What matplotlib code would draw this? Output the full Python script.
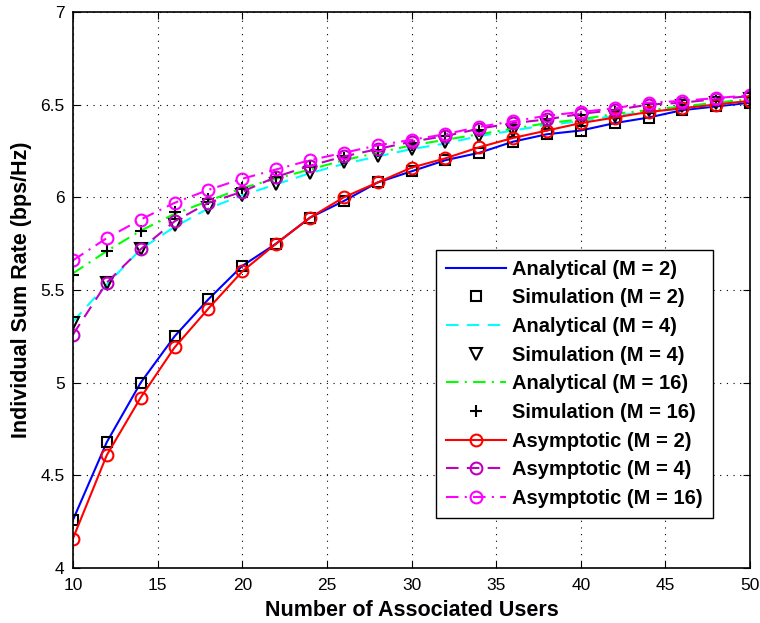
import matplotlib
matplotlib.use('Agg')
import matplotlib.pyplot as plt

users = [10, 12, 14, 16, 18, 20, 22, 24, 26, 28, 30, 32, 34, 36, 38, 40, 42, 44, 46, 48, 50]

ana_m2 = [4.26, 4.68, 5.00, 5.25, 5.45, 5.63, 5.75, 5.89, 5.98, 6.08, 6.14, 6.20, 6.24, 6.30, 6.34, 6.36, 6.40, 6.43, 6.47, 6.49, 6.51]
sim_m2 = [4.26, 4.68, 5.00, 5.25, 5.45, 5.63, 5.75, 5.89, 5.98, 6.08, 6.14, 6.20, 6.24, 6.30, 6.34, 6.36, 6.40, 6.43, 6.47, 6.49, 6.51]
ana_m4 = [5.33, 5.53, 5.72, 5.84, 5.94, 6.01, 6.07, 6.13, 6.18, 6.22, 6.26, 6.29, 6.33, 6.36, 6.39, 6.41, 6.44, 6.46, 6.48, 6.50, 6.52]
sim_m4 = [5.32, 5.54, 5.72, 5.85, 5.94, 6.01, 6.07, 6.13, 6.19, 6.22, 6.26, 6.30, 6.33, 6.36, 6.39, 6.41, 6.44, 6.47, 6.49, 6.51, 6.53]
ana_m16 = [5.59, 5.71, 5.82, 5.91, 5.98, 6.05, 6.10, 6.15, 6.20, 6.24, 6.28, 6.31, 6.34, 6.37, 6.40, 6.42, 6.45, 6.47, 6.49, 6.51, 6.53]
sim_m16 = [5.58, 5.71, 5.82, 5.92, 5.99, 6.05, 6.11, 6.17, 6.21, 6.25, 6.28, 6.33, 6.36, 6.38, 6.41, 6.43, 6.46, 6.48, 6.50, 6.52, 6.54]
asy_m2 = [4.16, 4.61, 4.92, 5.19, 5.40, 5.60, 5.75, 5.89, 6.00, 6.08, 6.16, 6.21, 6.27, 6.32, 6.36, 6.40, 6.43, 6.46, 6.48, 6.50, 6.52]
asy_m4 = [5.26, 5.54, 5.72, 5.87, 5.97, 6.03, 6.11, 6.17, 6.22, 6.26, 6.30, 6.33, 6.37, 6.40, 6.42, 6.45, 6.47, 6.50, 6.51, 6.53, 6.545]
asy_m16 = [5.66, 5.78, 5.88, 5.97, 6.04, 6.10, 6.15, 6.20, 6.24, 6.28, 6.31, 6.34, 6.38, 6.41, 6.44, 6.46, 6.48, 6.51, 6.52, 6.535, 6.55]

plt.rcParams['font.family'] = ['Liberation Sans', 'DejaVu Sans']

fig = plt.figure(figsize=(7.6, 6.23), dpi=100)
ax = fig.add_axes([0.096, 0.088, 0.891, 0.893])

lw = 1.5
mew = 1.5
ax.plot(users, ana_m2, color='#0000FF', linestyle='-', linewidth=lw, label='Analytical (M = 2)')
ax.plot(users, sim_m2, linestyle='none', marker='s', markersize=7.5, markerfacecolor='none',
        markeredgecolor='black', markeredgewidth=mew, label='Simulation (M = 2)')
ax.plot(users, ana_m4, color='#00FFFF', linestyle=(0, (6, 4)), linewidth=lw, label='Analytical (M = 4)')
ax.plot(users, sim_m4, linestyle='none', marker='v', markersize=9, markerfacecolor='none',
        markeredgecolor='black', markeredgewidth=mew, label='Simulation (M = 4)')
ax.plot(users, ana_m16, color='#00FF00', linestyle=(0, (6, 3, 1, 3)), linewidth=lw, label='Analytical (M = 16)')
ax.plot(users, sim_m16, linestyle='none', marker='+', markersize=8.5, markeredgecolor='black',
        markeredgewidth=mew, label='Simulation (M = 16)')
ax.plot(users, asy_m2, color='#FF0000', linestyle='-', linewidth=lw, marker='o', markersize=8.5,
        markerfacecolor='none', markeredgewidth=mew, label='Asymptotic (M = 2)')
ax.plot(users, asy_m4, color='#BF00BF', linestyle=(0, (6, 4)), linewidth=lw, marker='o', markersize=8.5,
        markerfacecolor='none', markeredgewidth=mew, label='Asymptotic (M = 4)')
ax.plot(users, asy_m16, color='#FF00FF', linestyle=(0, (6, 3, 1, 3)), linewidth=lw, marker='o', markersize=8.5,
        markerfacecolor='none', markeredgewidth=mew, label='Asymptotic (M = 16)')

ax.set_xlim(10, 50)
ax.set_ylim(4, 7)
ax.set_xticks([10, 15, 20, 25, 30, 35, 40, 45, 50])
ax.set_yticks([4, 4.5, 5, 5.5, 6, 6.5, 7])
ax.set_yticklabels(['4', '4.5', '5', '5.5', '6', '6.5', '7'])
ax.tick_params(direction='in', top=True, right=True, labelsize=12.5, length=5)
ax.tick_params(axis='x', pad=7)
ax.tick_params(axis='y', pad=6)
ax.grid(True, color='black', linestyle=(0, (1, 5)), linewidth=0.8)
for s in ax.spines.values():
    s.set_linewidth(1.2)

ax.set_xlabel('Number of Associated Users', fontsize=15.5, fontweight='bold', labelpad=5)
ax.set_ylabel('Individual Sum Rate (bps/Hz)', fontsize=15.5, fontweight='bold', labelpad=6)

leg = ax.legend(loc='lower right', bbox_to_anchor=(0.945, 0.09), prop={'weight': 'bold', 'size': 14.5},
                fancybox=False, edgecolor='black', framealpha=1, handlelength=3.0,
                labelspacing=0.48, borderpad=0.5, handletextpad=0.3, borderaxespad=0)
leg.get_frame().set_linewidth(1.0)

fig.savefig('out.png', dpi=100)
